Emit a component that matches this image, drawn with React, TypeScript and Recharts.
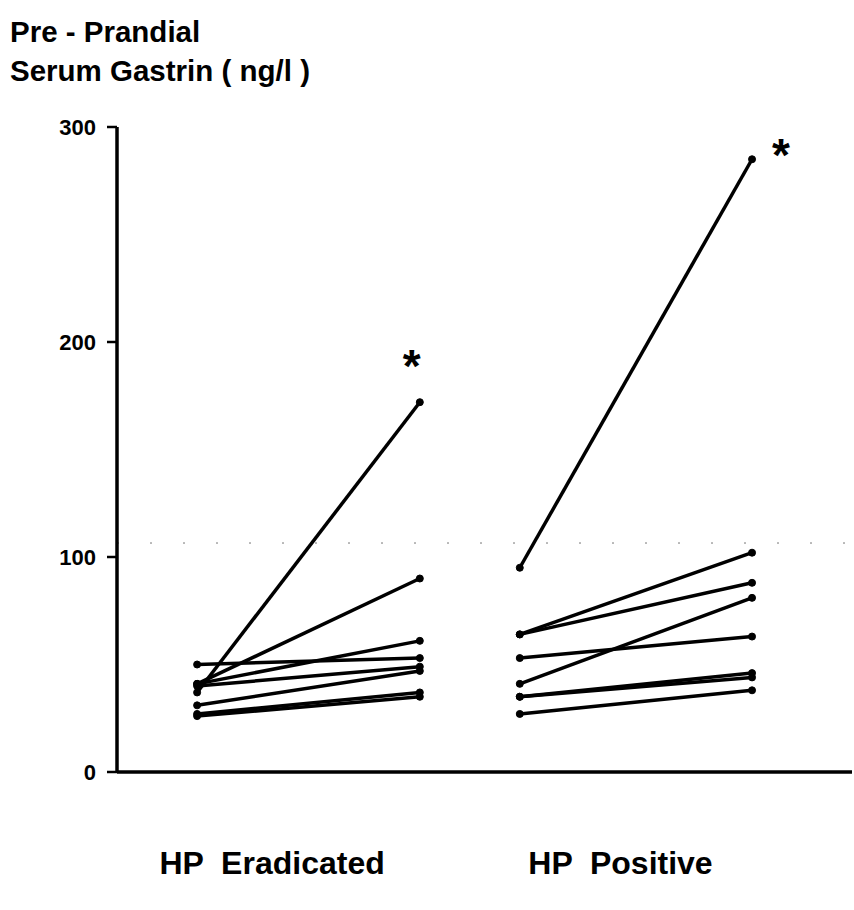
import React from "react";
import {
  LineChart,
  Line,
  XAxis,
  YAxis,
  ReferenceLine,
} from "recharts";

// pre-prandial serum gastrin (ng/l), one entry per subject, before -> after
const eradicatedBefore = [37, 41, 41, 50, 40, 31, 27, 26];
const eradicatedAfter = [172, 90, 61, 53, 49, 47, 37, 35];
const positiveBefore = [95, 64, 64, 41, 53, 35, 35, 27];
const positiveAfter = [285, 102, 88, 81, 63, 46, 44, 38];

const groupLabels = ["HP  Eradicated", "HP  Positive"];
const yTicks = [0, 100, 200, 300];

// subjects flagged with an asterisk (index into each group)
const eradicatedStarred = [0];
const positiveStarred = [0];

// horizontal placement on the numeric x scale
const X_ERADICATED = [1.09, 4.12];
const X_POSITIVE = [5.48, 8.64];
const X_LABELS = [2.11, 6.85];

const FONT = "'Liberation Sans', Arial, Helvetica, sans-serif";

type Pt = { x: number; y: number };

const pairs = (
  before: number[],
  after: number[],
  xs: number[]
): Pt[][] =>
  before.map((b, i) => [
    { x: xs[0], y: b },
    { x: xs[1], y: after[i] },
  ]);

const eradicatedLines = pairs(eradicatedBefore, eradicatedAfter, X_ERADICATED);
const positiveLines = pairs(positiveBefore, positiveAfter, X_POSITIVE);

const starLabel =
  (dx: number, dy: number) =>
  (props: { x?: number; y?: number; index?: number }) => {
    if (props.index !== 1) return null;
    return (
      <text
        x={(props.x ?? 0) + dx}
        y={(props.y ?? 0) + dy}
        textAnchor="middle"
        fontFamily={FONT}
        fontWeight="bold"
        fontSize={46}
        fill="#000"
      >
        *
      </text>
    );
  };

const GroupTick = (props: {
  x?: number;
  y?: number;
  index?: number;
}) => (
  <text
    x={props.x}
    y={(props.y ?? 0) + 94}
    textAnchor="middle"
    fontFamily={FONT}
    fontWeight="bold"
    fontSize={32}
    fill="#000"
    style={{ whiteSpace: "pre" }}
  >
    {groupLabels[props.index ?? 0]}
  </text>
);

export default function App() {
  const renderLines = (
    lines: Pt[][],
    starred: number[],
    key: string,
    star: [number, number]
  ) =>
    lines.map((d, i) => (
      <Line
        key={`${key}-${i}`}
        data={d}
        dataKey="y"
        type="linear"
        stroke="#000"
        strokeWidth={3.5}
        dot={{ r: 3.5, fill: "#000", stroke: "#000", strokeWidth: 1 }}
        isAnimationActive={false}
        label={starred.includes(i) ? starLabel(star[0], star[1]) : undefined}
      />
    ));

  return (
    <div
      style={{
        position: "absolute",
        left: 0,
        top: 0,
        width: 854,
        height: 910,
        background: "#fff",
      }}
    >
      <div
        style={{
          position: "absolute",
          left: 10,
          top: 12,
          fontFamily: FONT,
          fontWeight: "bold",
          fontSize: 29.5,
          lineHeight: "39px",
          color: "#000",
          whiteSpace: "pre",
        }}
      >
        {"Pre - Prandial\nSerum Gastrin ( ng/l )"}
      </div>
      <LineChart
        width={854}
        height={910}
        margin={{ top: 127, right: 2, bottom: 38, left: 57 }}
      >
        <XAxis
          type="number"
          dataKey="x"
          domain={[0, 10]}
          ticks={X_LABELS}
          tick={<GroupTick />}
          tickLine={false}
          height={100}
          axisLine={{ stroke: "#000", strokeWidth: 3.5 }}
          allowDuplicatedCategory={false}
        />
        <YAxis
          type="number"
          domain={[0, 300]}
          ticks={yTicks}
          width={60}
          tickSize={10}
          tickMargin={11}
          axisLine={{ stroke: "#000", strokeWidth: 3.5 }}
          tickLine={{ stroke: "#000", strokeWidth: 2.5 }}
          tick={{
            fontFamily: FONT,
            fontWeight: "bold",
            fontSize: 22,
            fill: "#000",
          }}
        />
        <ReferenceLine
          y={106.5}
          stroke="#777"
          strokeWidth={1}
          strokeDasharray="2 31"
        />
        {renderLines(eradicatedLines, eradicatedStarred, "er", [-8, -20])}
        {renderLines(positiveLines, positiveStarred, "po", [29, 12])}
      </LineChart>
    </div>
  );
}
